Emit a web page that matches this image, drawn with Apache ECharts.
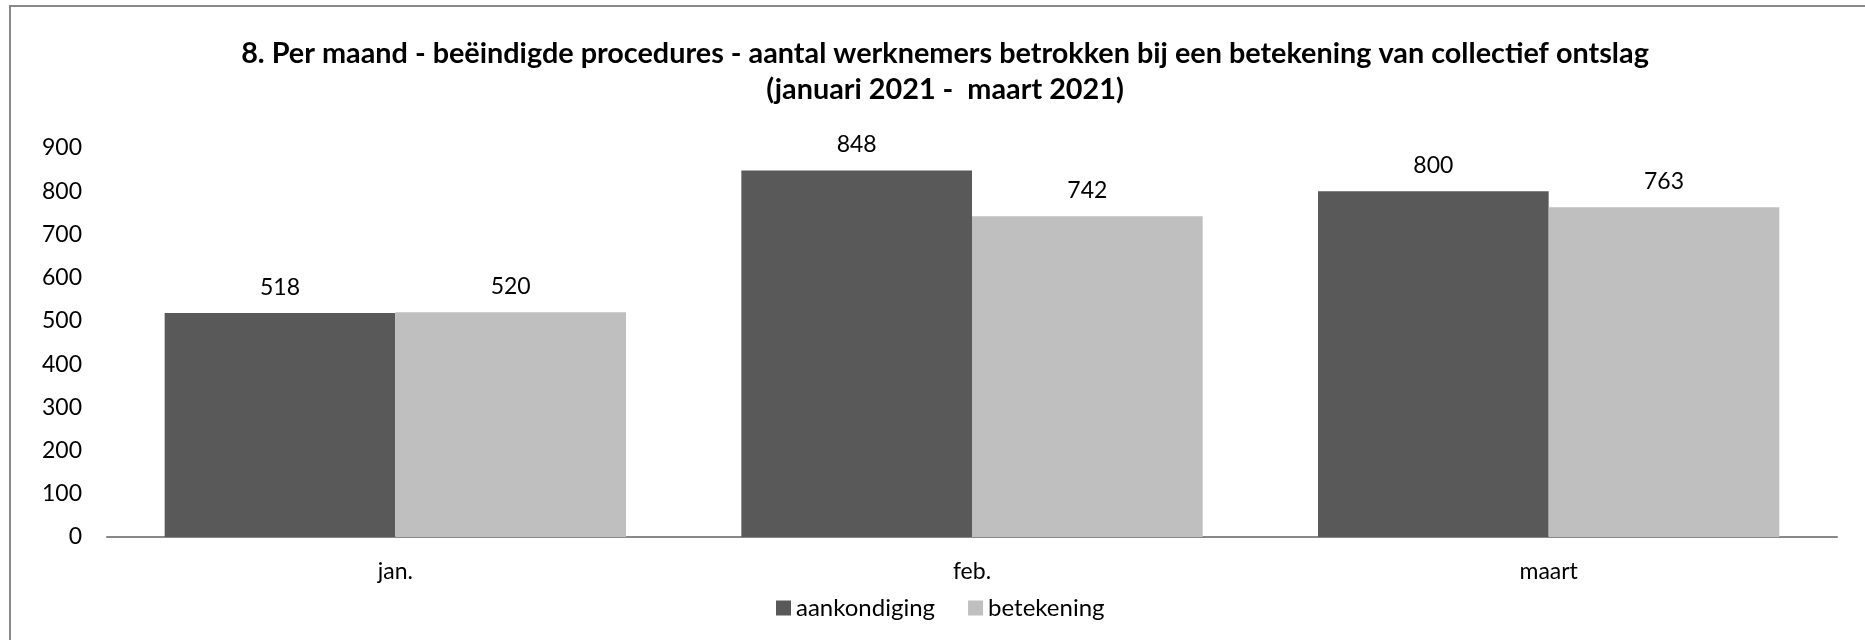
<!DOCTYPE html>
<html>
<head>
<meta charset="utf-8">
<script src="https://cdn.jsdelivr.net/npm/echarts@6/dist/echarts.min.js"></script>
<style>
html, body { margin: 0; padding: 0; background: #fff; }
#myChart { width: 1865px; height: 640px; }
</style>
</head>
<body>
<div id="myChart"></div>
<script>
var months = ['jan.', 'feb.', 'maart'];
var aankondiging = [518, 848, 800];
var betekening = [520, 742, 763];
var yTicks = [0, 900, 100]; // min, max, interval

window.onload = function () {
	'use strict';

	var font = 'Lato, "Open Sans", sans-serif';
	var labelStyle = {
		show: true,
		position: 'top',
		distance: 14,
		color: '#000',
		fontFamily: font,
		fontSize: 23
	};

	var option = {
		animation: false,
		textStyle: { fontFamily: font },
		title: {
			text: '8. Per maand - beëindigde procedures - aantal werknemers betrokken bij een betekening van collectief ontslag\n(januari 2021 -  maart 2021)',
			left: 940,
			top: 31,
			textAlign: 'center',
			textStyle: {
				fontFamily: font,
				fontWeight: 'bold',
				fontSize: 28.8,
				lineHeight: 36,
				color: '#000'
			}
		},
		graphic: [
			{
				type: 'rect',
				silent: true,
				shape: { x: 10, y: 6, width: 1900, height: 700 },
				style: { fill: null, stroke: '#898989', lineWidth: 2 }
			}
		],
		legend: {
			left: 771,
			top: 591,
			itemWidth: 15,
			itemHeight: 15,
			itemGap: 33,
			icon: 'rect',
			textStyle: { fontFamily: font, fontSize: 24, color: '#000' },
			data: ['aankondiging', 'betekening']
		},
		grid: {
			left: 107,
			right: 28,
			top: 148,
			bottom: 103
		},
		xAxis: {
			type: 'category',
			data: months,
			axisLine: { lineStyle: { color: '#888', width: 2 } },
			axisTick: { show: false },
			axisLabel: {
				margin: 23,
				color: '#000',
				fontFamily: font,
				fontSize: 23
			}
		},
		yAxis: {
			type: 'value',
			min: yTicks[0],
			max: yTicks[1],
			interval: yTicks[2],
			splitLine: { show: false },
			axisLine: { show: false },
			axisTick: { show: false },
			axisLabel: {
				margin: 25,
				color: '#000',
				fontFamily: font,
				fontSize: 23
			}
		},
		series: [
			{
				name: 'aankondiging',
				type: 'bar',
				data: aankondiging,
				barGap: '0%',
				barCategoryGap: '20%',
				itemStyle: { color: '#595959' },
				label: labelStyle
			},
			{
				name: 'betekening',
				type: 'bar',
				data: betekening,
				itemStyle: { color: '#bfbfbf' },
				label: labelStyle
			}
		]
	};

	var myChart = echarts.init(document.getElementById('myChart'));
	myChart.setOption(option);
};
</script>
</body>
</html>
